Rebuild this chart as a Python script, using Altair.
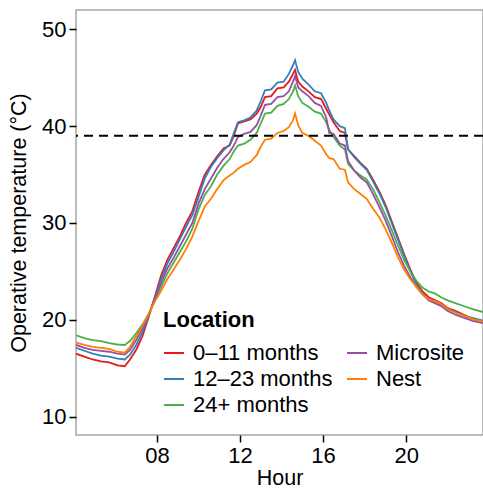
import altair as alt
import pandas as pd

hours = [4.1, 4.5, 4.9, 5.3, 5.7, 6.1, 6.45, 6.7, 7.0, 7.3, 7.6, 7.9, 8.2, 8.5, 8.8, 9.1, 9.4, 9.7,
         10.0, 10.3, 10.6, 10.9, 11.2, 11.5, 11.7, 11.9, 12.2, 12.5, 12.8, 13.0, 13.2, 13.5, 13.8,
         14.1, 14.35, 14.55, 14.65, 14.8, 15.0, 15.3, 15.6, 15.9, 16.15, 16.3, 16.5, 16.8, 17.05,
         17.2, 17.5, 17.8, 18.1, 18.4, 18.7, 19.0, 19.3, 19.6, 19.9, 20.2, 20.5, 20.8, 21.1, 21.4,
         21.7, 22.0, 22.4, 22.8, 23.2, 23.7]

red_0_11 = [16.5, 16.2, 15.9, 15.7, 15.6, 15.3, 15.2, 15.9, 16.9, 18.3, 20.3, 22.4, 24.6, 26.2, 27.4,
            28.6, 30.0, 31.2, 33.2, 35.0, 36.0, 36.9, 37.7, 38.0, 39.0, 40.3, 40.5, 40.7, 41.3, 42.0,
            43.0, 43.1, 43.9, 44.0, 44.6, 45.4, 45.8, 44.6, 44.1, 43.6, 43.0, 42.8, 41.8, 41.2, 40.4,
            39.5, 39.3, 37.6, 36.9, 36.2, 35.6, 34.5, 33.3, 31.9, 30.2, 28.5, 26.8, 25.2, 23.8, 22.9,
            22.3, 22.0, 21.7, 21.2, 20.9, 20.5, 20.1, 19.8]
blue_12_23 = [17.1, 16.8, 16.5, 16.3, 16.2, 16.0, 15.9, 16.4, 17.4, 18.7, 20.4, 22.3, 24.2, 25.8, 27.0,
              28.3, 29.6, 30.8, 32.7, 34.6, 35.8, 36.7, 37.5, 38.1, 39.3, 40.4, 40.6, 40.9, 41.6, 42.6,
              43.7, 43.8, 44.5, 44.6, 45.4, 46.3, 46.8, 45.6, 44.9, 44.3, 43.6, 43.4, 42.4, 41.6, 40.7,
              40.0, 39.8, 37.6, 36.8, 36.1, 35.5, 34.3, 33.1, 31.7, 30.0, 28.3, 26.6, 25.0, 23.6, 22.7,
              22.0, 21.8, 21.5, 21.1, 20.8, 20.4, 20.2, 19.9]
green_24 = [18.4, 18.1, 17.9, 17.8, 17.6, 17.45, 17.4, 17.8, 18.6, 19.5, 20.6, 22.0, 23.4, 24.8, 25.9,
            27.0, 28.1, 29.4, 31.4, 32.9, 33.8, 35.0, 35.9, 36.6, 37.4, 38.0, 38.2, 38.6, 39.3, 40.3,
            41.3, 41.4, 42.1, 42.3, 42.8, 43.6, 44.2, 43.1, 42.4, 42.0, 41.5, 41.3, 40.4, 39.6, 38.9,
            38.0, 37.6, 36.1, 35.4, 34.9, 34.5, 33.5, 32.2, 30.8, 29.3, 27.7, 26.2, 25.0, 24.0, 23.3,
            22.9, 22.7, 22.3, 22.0, 21.7, 21.4, 21.1, 20.8]
microsite = [17.4, 17.1, 16.9, 16.8, 16.7, 16.5, 16.4, 16.9, 17.9, 19.1, 20.5, 22.2, 23.8, 25.3, 26.4,
             27.6, 28.8, 30.0, 32.0, 33.5, 34.6, 35.7, 36.6, 37.3, 38.0, 38.9, 39.2, 39.4, 40.1, 41.1,
             42.2, 42.3, 43.0, 43.1, 43.6, 44.6, 45.2, 44.0, 43.6, 43.1, 42.4, 42.1, 40.9, 39.3, 39.2,
             38.2, 38.0, 36.4, 35.4, 34.7, 34.2, 33.0, 31.7, 30.3, 28.7, 27.0, 25.6, 24.4, 23.4, 22.6,
             22.0, 21.7, 21.4, 20.9, 20.5, 20.2, 19.9, 19.65]
nest = [17.65, 17.4, 17.2, 17.1, 17.0, 16.7, 16.6, 17.2, 18.3, 19.4, 20.6, 21.9, 23.0, 24.2, 25.2,
        26.2, 27.3, 28.6, 30.2, 31.7, 32.5, 33.5, 34.4, 34.9, 35.2, 35.6, 36.0, 36.3, 37.0, 37.9,
        38.6, 38.7, 39.3, 39.5, 39.9, 40.6, 41.3, 40.1, 39.3, 39.0, 38.5, 38.0, 37.1, 36.7, 36.6,
        35.6, 35.5, 34.2, 33.5, 33.0, 32.5, 31.5, 30.6, 29.4, 28.0, 26.5, 25.2, 24.2, 23.4, 22.6,
        22.1, 21.9, 21.6, 21.1, 20.7, 20.4, 20.1, 19.8]

series_names = ["0\u201311 months", "12\u201323 months", "24+ months", "Microsite", "Nest"]
series_vals = [red_0_11, blue_12_23, green_24, microsite, nest]
series_colors = ["#E41A1C", "#377EB8", "#4DAF4A", "#984EA3", "#FF7F00"]
threshold = [39]
x_ticks = [8, 12, 16, 20]
y_ticks = [10, 20, 30, 40, 50]

rows = []
for name, vals in zip(series_names, series_vals):
    for h, v in zip(hours, vals):
        rows.append({"Hour": h, "Temp": v, "Location": name})
df = pd.DataFrame(rows)

FONT = "Liberation Sans"

lines = alt.Chart(df).mark_line(strokeWidth=1.8, clip=True).encode(
    x=alt.X("Hour:Q", scale=alt.Scale(domain=[4.1, 23.7], nice=False, zero=False),
            axis=alt.Axis(values=x_ticks, title="Hour",
                          labelExpr="datum.value < 10 ? '0' + datum.value : '' + datum.value")),
    y=alt.Y("Temp:Q", scale=alt.Scale(domain=[8.1, 52], nice=False, zero=False),
            axis=alt.Axis(values=y_ticks, title="Operative temperature (\u00b0C)")),
    color=alt.Color("Location:N",
                    scale=alt.Scale(domain=series_names, range=series_colors),
                    legend=alt.Legend(title="Location", orient="none", legendX=87, legendY=300,
                                      columns=2, symbolType="stroke", symbolSize=400,
                                      symbolStrokeWidth=2, labelFontSize=22, titleFontSize=22,
                                      titleFontWeight="bold", labelFont=FONT, titleFont=FONT,
                                      labelColor="black", titleColor="black",
                                      rowPadding=4, columnPadding=10, labelOffset=8,
                                      titlePadding=10)),
    detail="Location:N",
)

rule = alt.Chart(pd.DataFrame({"y": threshold})).mark_rule(
    color="black", strokeDash=[9, 6], strokeWidth=2
).encode(y="y:Q")

chart = alt.layer(lines, rule).properties(
    width=407, height=425,
    autosize=alt.AutoSizeParams(type="none"),
    padding={"left": 76, "top": 10, "right": 0, "bottom": 56},
).configure_view(
    stroke="#a6a6a6", strokeWidth=1.5
).configure_axis(
    grid=False, domain=False, tickColor="black", tickSize=7, tickWidth=1.5,
    labelFont=FONT, titleFont=FONT, labelFontSize=22, titleFontSize=21.5,
    labelColor="black", titleColor="black", titleFontWeight="normal", labelPadding=3,
).configure_axisY(titlePadding=11).configure_axisX(titlePadding=1)

chart.save("out.html", embed_options={"renderer": "svg", "actions": False})
